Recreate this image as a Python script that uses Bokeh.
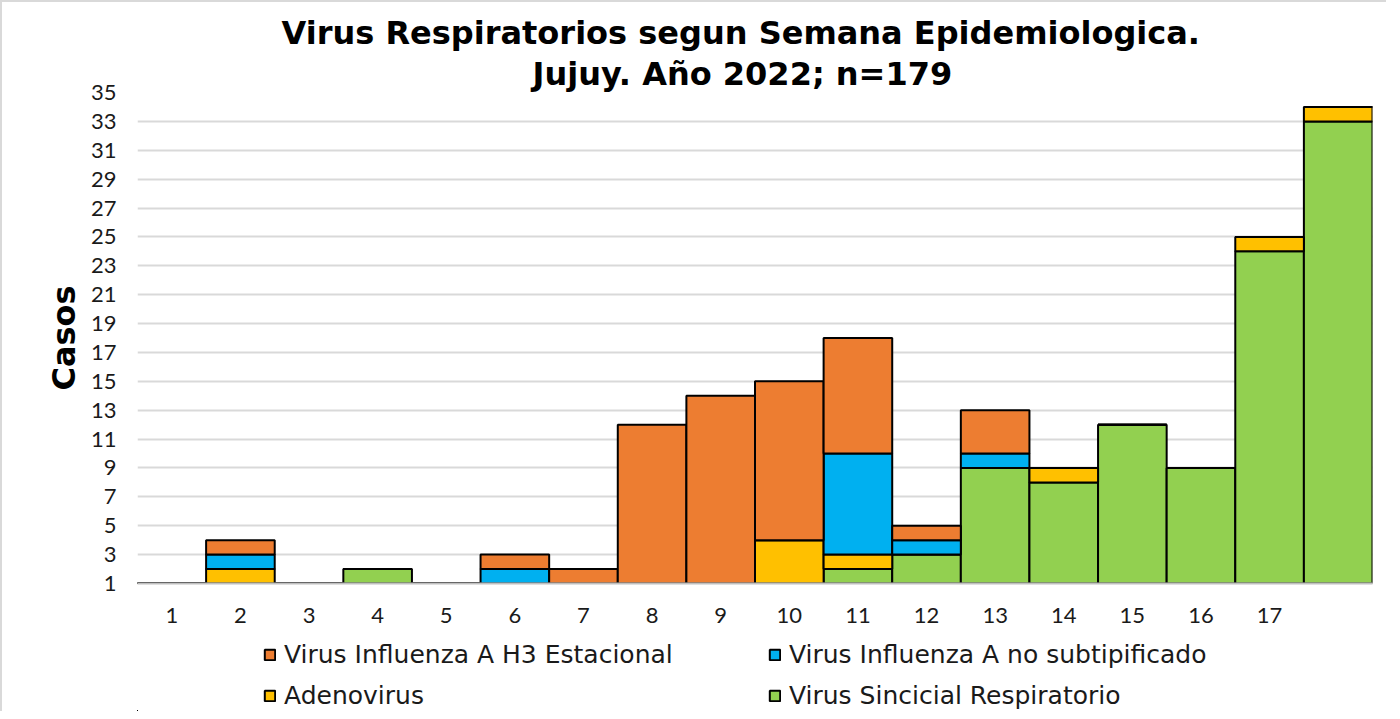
from bokeh.plotting import figure
from bokeh.layouts import column
from bokeh.models import FixedTicker, Range1d, Legend, LegendItem, Title, ColumnDataSource
from bokeh.embed import file_html
from bokeh.resources import INLINE

# Data
semanas = list(range(1, 19))
etiquetas = [str(i) for i in range(1, 18)]
vsr = [0, 0, 0, 2, 1, 0, 0, 0, 0, 0, 2, 3, 9, 8, 12, 9, 24, 33]
adeno = [0, 2, 0, 0, 0, 0, 0, 0, 1, 4, 1, 0, 0, 1, 0, 0, 1, 1]
flu_ns = [0, 1, 0, 0, 0, 2, 0, 1, 0, 0, 7, 1, 1, 0, 0, 0, 0, 0]
h3 = [0, 1, 0, 0, 0, 1, 2, 11, 13, 11, 8, 1, 3, 0, 0, 0, 0, 0]
y_ticks = list(range(1, 36, 2))

series = ["vsr", "adeno", "flu_ns", "h3"]
nombres = {
    "h3": "Virus Influenza A H3 Estacional",
    "flu_ns": "Virus Influenza A no subtipificado",
    "adeno": "Adenovirus",
    "vsr": "Virus Sincicial Respiratorio",
}
colores = {"vsr": "#92D050", "adeno": "#FFC000", "flu_ns": "#00B0F0", "h3": "#ED7D31"}
BORDER = "2px solid #d9d9d9"

source = ColumnDataSource(dict(x=semanas, vsr=vsr, adeno=adeno, flu_ns=flu_ns, h3=h3))

p = figure(frame_width=1233, frame_height=489, output_backend="svg", toolbar_location=None,
           x_range=Range1d(0.5, 18.5), y_range=Range1d(1, 35),
           min_border_left=135, min_border_right=16, min_border_top=90, min_border_bottom=50)
p.styles = {"border-left": BORDER, "border-top": BORDER, "box-sizing": "border-box"}

p.vbar_stack(series, x="x", width=1.0, source=source,
             color=[colores[s] for s in series], line_color="black", line_width=2)

p.outline_line_color = None
p.xgrid.grid_line_color = None
p.ygrid.grid_line_color = "#d9d9d9"
p.ygrid.grid_line_width = 2
p.ygrid.level = "underlay"

# Y axis
p.yaxis.ticker = FixedTicker(ticks=y_ticks)
p.yaxis.axis_line_color = None
p.yaxis.major_tick_line_color = None
p.yaxis.minor_tick_line_color = None
p.yaxis.major_label_text_font = "Lato"
p.yaxis.major_label_text_font_size = "22px"
p.yaxis.major_label_text_color = "#1a1a1a"
p.yaxis.major_label_standoff = 15
p.yaxis.axis_label = "Casos"
p.yaxis.axis_label_text_font = "DejaVu Sans"
p.yaxis.axis_label_text_font_style = "bold"
p.yaxis.axis_label_text_font_size = "32px"
p.yaxis.axis_label_text_color = "black"
p.yaxis.axis_label_standoff = 5

# X axis
p.xaxis.ticker = FixedTicker(ticks=semanas[:len(etiquetas)])
p.xaxis.major_label_overrides = {i + 1: t for i, t in enumerate(etiquetas)}
p.xaxis.axis_line_color = "#bfbfbf"
p.xaxis.axis_line_width = 2
p.xaxis.major_tick_line_color = None
p.xaxis.minor_tick_line_color = None
p.xaxis.major_label_text_font = "Lato"
p.xaxis.major_label_text_font_size = "22px"
p.xaxis.major_label_text_color = "#1a1a1a"
p.xaxis.major_label_standoff = 18

# Titles
t2 = Title(text="Jujuy. Año 2022; n=179", align="left", text_font="DejaVu Sans",
           text_font_size="32px", text_font_style="bold", text_color="black", standoff=0, offset=395)
t1 = Title(text="Virus Respiratorios segun Semana Epidemiologica.", align="left",
           text_font="DejaVu Sans", text_font_size="32px", text_font_style="bold",
           text_color="black", standoff=2, offset=144)
p.add_layout(t2, "above")
p.add_layout(t1, "above")

# Legend in a separate strip below the chart (dummy renderers kept out of view)
pl = figure(width=1384, height=80, output_backend="svg", toolbar_location=None,
            x_range=Range1d(100, 101), y_range=Range1d(100, 101),
            x_axis_location=None, y_axis_location=None,
            min_border_left=0, min_border_right=0, min_border_top=0, min_border_bottom=0)
pl.styles = {"border-left": BORDER, "box-sizing": "border-box"}
pl.outline_line_color = None
pl.grid.grid_line_color = None
rl = pl.vbar_stack(series, x="x", width=1.0, source=source,
                   color=[colores[s] for s in series], line_color="black", line_width=2)
rmap = dict(zip(series, rl))

orden = ["h3", "flu_ns", "adeno", "vsr"]
items = [LegendItem(label=nombres[s], renderers=[rmap[s]]) for s in orden]
legend = Legend(items=items, orientation="horizontal", ncols=2, location=(126, 1),
                label_text_font="DejaVu Sans", label_text_font_size="25px", label_text_color="#1a1a1a",
                glyph_width=13, glyph_height=13, label_standoff=8, label_width=472,
                label_height=26, spacing=12, padding=0, margin=0,
                border_line_color=None, background_fill_alpha=0)
pl.add_layout(legend, "center")

layout = column(p, pl, spacing=0)
open("out.html", "w").write(file_html(layout, INLINE))
